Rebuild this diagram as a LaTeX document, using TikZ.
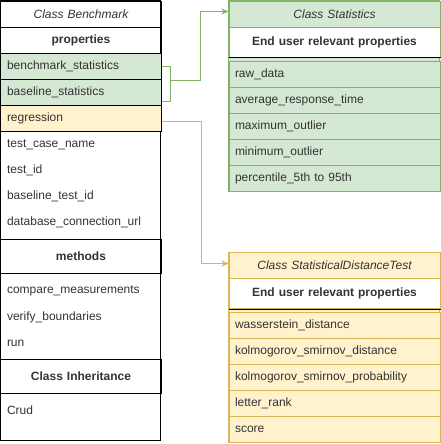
\documentclass[tikz,border=0pt]{standalone}
\usepackage{fontspec}
\setmainfont{Liberation Sans}
\usepackage{tikz}
\usepackage{xcolor}
\usetikzlibrary{positioning, fit, arrows.meta}

\definecolor{statfill}{HTML}{D5E8D4}
\definecolor{statline}{HTML}{82B366}
\definecolor{testfill}{HTML}{FFF2CC}
\definecolor{testline}{HTML}{D6B656}
\definecolor{txtgray}{HTML}{333333}

\begin{document}
\begin{tikzpicture}[x=1pt, y=-1pt, line width=1pt, >={Stealth[length=7pt,width=6pt]}, % Arrow tip style
    font=\fontsize{12pt}{14pt}\selectfont, text=txtgray,
    cell/.style={rectangle, anchor=north west, inner xsep=6pt, inner ysep=0pt, minimum height=26pt, align=left},
    leftcell/.style={cell, text width=148pt},
    rightcell/.style={cell, text width=199pt},
    titlecell/.style={font=\fontsize{12pt}{14pt}\selectfont\itshape, align=center},
    headcell/.style={font=\fontsize{12pt}{14pt}\selectfont\bfseries, align=center}]
                        \useasboundingbox (-0.5,-1) rectangle (439.5,443);

                        % Class Benchmark with its sections
                        \draw[black] (0,0) rectangle (160,439);
                        \node[leftcell, titlecell, draw=black] (bmtitle) at (0,0) {Class Benchmark};
                        \node[leftcell, headcell, draw=black] (bmprops) at (0,26) {properties};
                        \node[leftcell, draw=black, fill=statfill] (bench) at (0,52) {benchmark\_statistics};
                        \node[leftcell, draw=black, fill=statfill] (base) at (0,78) {baseline\_statistics};
                        \node[leftcell, draw=black, fill=testfill] (regr) at (0,104) {regression};
                        \node[leftcell] (tcname) at (0,130) {test\_case\_name};
                        \node[leftcell] (tid) at (0,156) {test\_id};
                        \node[leftcell] (btid) at (0,182) {baseline\_test\_id};
                        \node[leftcell] (dburl) at (0,208) {database\_connection\_url};
                        \node[leftcell, headcell, draw=black, minimum height=34pt] (methods) at (0,238) {methods};
                        \node[leftcell] (compare) at (0,276) {compare\_measurements};
                        \node[leftcell] (verify) at (0,302.5) {verify\_boundaries};
                        \node[leftcell] (run) at (0,329) {run};
                        \node[leftcell, headcell, draw=black, minimum height=34pt] (inherit) at (0,358) {Class Inheritance};
                        \node[leftcell] (crud) at (0,396) {Crud};

                        % Class Statistics
                        \filldraw[draw=statline, fill=statfill] (228,0) rectangle (439,190);
                        \node[rightcell, titlecell, draw=statline, fill=statfill] (sttitle) at (228,0) {Class Statistics};
                        \node[rightcell, headcell, draw=statline, fill=white, minimum height=30pt] (sthead) at (228,26) {End user relevant properties};
                        \draw[black] (sthead.south west) -- (sthead.south east);
                        \node[rightcell, draw=statline, fill=statfill] (raw) at (228,60) {raw\_data};
                        \node[rightcell, draw=statline, fill=statfill] (avg) at (228,86) {average\_response\_time};
                        \node[rightcell, draw=statline, fill=statfill] (maxout) at (228,112) {maximum\_outlier};
                        \node[rightcell, draw=statline, fill=statfill] (minout) at (228,138) {minimum\_outlier};
                        \node[rightcell, draw=statline, fill=statfill] (pct) at (228,164) {percentile\_5th to 95th};

                        % Class StatisticalDistanceTest
                        \filldraw[draw=testline, fill=testfill] (228,251) rectangle (439,441);
                        \node[rightcell, titlecell, draw=testline, fill=testfill] (sdttitle) at (228,251) {Class StatisticalDistanceTest};
                        \node[rightcell, headcell, draw=testline, fill=white, minimum height=30pt] (sdthead) at (228,277) {End user relevant properties};
                        \draw[black] (sdthead.south west) -- (sdthead.south east);
                        \node[rightcell, draw=testline, fill=testfill] (wdist) at (228,311) {wasserstein\_distance};
                        \node[rightcell, draw=testline, fill=testfill] (ksdist) at (228,337) {kolmogorov\_smirnov\_distance};
                        \node[rightcell, draw=testline, fill=testfill] (ksprob) at (228,363) {kolmogorov\_smirnov\_probability};
                        \node[rightcell, draw=testline, fill=testfill] (rank) at (228,389) {letter\_rank};
                        \node[rightcell, draw=testline, fill=testfill] (score) at (228,415) {score};

                        % Draw connectors with arrows
                        \coordinate (statjoin) at (170,80);
                        \draw[statline] (bench.east) -| (statjoin);
                        \draw[statline] ([yshift=-9pt]base.east) -| (statjoin);
                        \draw[statline, ->] (statjoin) -- ++(30,0) |- ([yshift=3pt]sttitle.west);
                        \draw[testline, ->] ([yshift=-3pt]regr.east) -- ++(40,0) |- ([yshift=2pt]sdttitle.west);

                    \end{tikzpicture}
\end{document}
